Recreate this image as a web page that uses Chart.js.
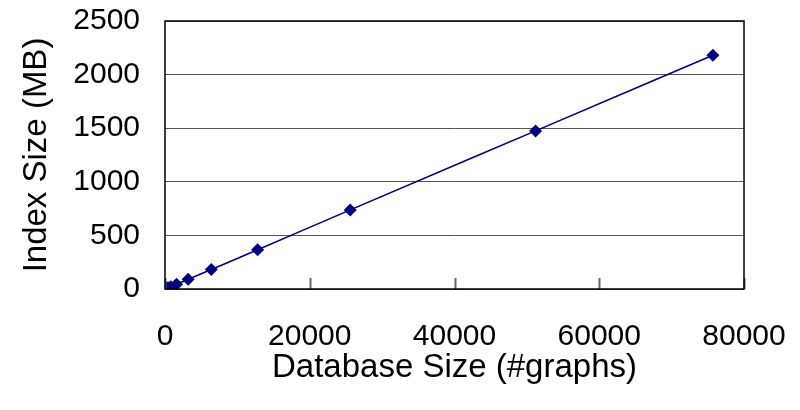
<!DOCTYPE html>
<html>
<head>
<meta charset="utf-8">
<script src="https://cdn.jsdelivr.net/npm/chart.js@4"></script>
<style>
  html, body { margin: 0; padding: 0; background: #fff; }
  #wrap { width: 800px; height: 410px; }
</style>
</head>
<body>
<div id="wrap"><canvas id="indexChart"></canvas></div>
<script>
// database size (#graphs) vs index size (MB)
var dbSizes = [200, 400, 800, 1600, 3200, 6400, 12800, 25600, 51200, 75700];
var indexSizes = [6, 11, 22, 44, 90, 182, 366, 738, 1475, 2180];
var xTicks = [0, 20000, 40000, 60000, 80000];
var yTicks = [0, 500, 1000, 1500, 2000, 2500];

var points = dbSizes.map(function (x, i) {
  return { x: x, y: indexSizes[i] };
});

// box around the plot and short inward ticks on the x axis
var framePlugin = {
  id: 'frame',
  afterDraw: function (chart) {
    var ctx = chart.ctx;
    var area = chart.chartArea;
    var xScale = chart.scales.x;
    ctx.save();
    ctx.strokeStyle = '#666';
    ctx.lineWidth = 2;
    xTicks.forEach(function (v) {
      var px = Math.round(xScale.getPixelForValue(v)) + 0.5;
      ctx.beginPath();
      ctx.moveTo(px, area.bottom);
      ctx.lineTo(px, area.bottom - 11);
      ctx.stroke();
    });
    ctx.strokeStyle = '#000';
    ctx.lineWidth = 1.5;
    ctx.strokeRect(area.left, area.top, area.right - area.left, area.bottom - area.top);
    ctx.restore();
  }
};

var ctx = document.getElementById('indexChart').getContext('2d');
new Chart(ctx, {
  type: 'scatter',
  data: {
    datasets: [{
      data: points,
      showLine: true,
      borderColor: '#000080',
      borderWidth: 1.6,
      backgroundColor: '#000080',
      pointStyle: 'rectRot',
      pointRadius: 6.5,
      pointBorderWidth: 0,
      cubicInterpolationMode: 'monotone'
    }]
  },
  options: {
    responsive: true,
    maintainAspectRatio: false,
    animation: false,
    layout: { padding: { top: 21, right: 56, left: 0, bottom: 0 } },
    plugins: {
      legend: { display: false },
      tooltip: { enabled: false }
    },
    scales: {
      x: {
        type: 'linear',
        min: 0,
        max: 80000,
        afterBuildTicks: function (scale) {
          scale.ticks = xTicks.map(function (v) { return { value: v }; });
        },
        grid: { display: false, drawTicks: false },
        border: { display: false },
        ticks: {
          color: '#000',
          padding: 30,
          maxRotation: 0,
          font: { family: 'Liberation Sans', size: 30 },
          callback: function (v) { return String(v); }
        },
        title: {
          display: true,
          text: 'Database Size (#graphs)',
          color: '#000',
          font: { family: 'Liberation Sans', size: 33 },
          padding: { top: 6, bottom: 22 }
        },
        afterFit: function (scale) {
          scale.height = 121;
          scale.paddingLeft = 0;
          scale.paddingRight = 0;
        }
      },
      y: {
        type: 'linear',
        min: 0,
        max: 2500,
        afterBuildTicks: function (scale) {
          scale.ticks = yTicks.map(function (v) { return { value: v }; });
        },
        grid: { color: '#555', lineWidth: 1, drawTicks: false },
        border: { display: false },
        ticks: {
          color: '#000',
          padding: 25,
          font: { family: 'Liberation Sans', size: 30 },
          callback: function (v) { return String(v); }
        },
        title: {
          display: true,
          text: 'Index Size (MB)',
          color: '#000',
          font: { family: 'Liberation Sans', size: 33 },
          padding: { top: 17, bottom: 0 }
        },
        afterFit: function (scale) {
          scale.width = 165;
          scale.paddingTop = 0;
          scale.paddingBottom = 0;
        }
      }
    }
  },
  plugins: [framePlugin]
});
</script>
</body>
</html>
